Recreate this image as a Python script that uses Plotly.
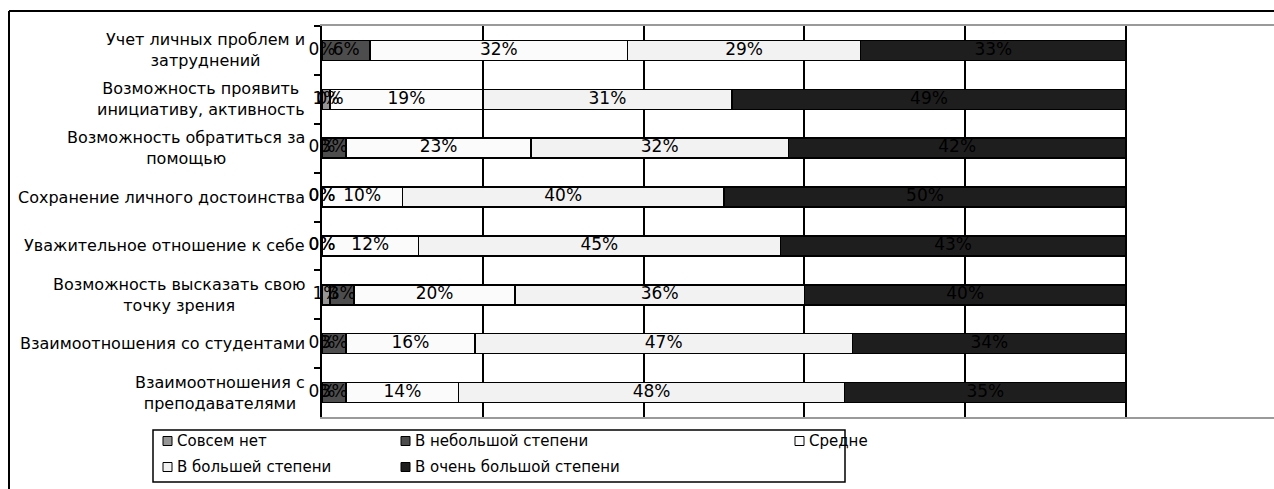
import plotly.graph_objects as go

# Survey items (top to bottom)
categories = [
    "Учет личных проблем и<br>затруднений",
    "Возможность проявить<br>инициативу, активность",
    "Возможность обратиться за<br>помощью",
    "Сохранение личного достоинства",
    "Уважительное отношение к себе",
    "Возможность высказать свою<br>точку зрения",
    "Взаимоотношения со студентами",
    "Взаимоотношения с<br>преподавателями",
]

# Share of answers, %
sovsem_net = [0, 1, 0, 0, 0, 1, 0, 0]
v_nebolshoy = [6, 0, 3, 0, 0, 3, 3, 3]
sredne = [32, 19, 23, 10, 12, 20, 16, 14]
v_bolshey = [29, 31, 32, 40, 45, 36, 47, 48]
v_ochen_bolshoy = [33, 49, 42, 50, 43, 40, 34, 35]

series_names = [
    "Совсем нет",
    "В небольшой степени",
    "Средне",
    "В большей степени",
    "В очень большой степени",
]
series_values = [sovsem_net, v_nebolshoy, sredne, v_bolshey, v_ochen_bolshoy]
series_colors = ["#969696", "#4d4d4d", "#fbfbfb", "#f2f2f2", "#1e1e1e"]

W, H = 1274, 489
ML, MR, MT, MB = 322, 0, 26, 72
PW, PH = W - ML - MR, H - MT - MB
X_MAX = 100 * PW / 804.0  # 100% sits at 804 px from the axis


def px(xpix):
    return (xpix - ML) / PW


def py(ypix):
    return (H - MB - ypix) / PH


LABEL_FONT = "DejaVu Sans"

fig = go.Figure()

for name, vals, col in zip(series_names, series_values, series_colors):
    fig.add_trace(go.Bar(
        y=categories, x=vals, name=name, orientation="h",
        marker=dict(color=col, line=dict(color="#000000", width=1.5)),
        showlegend=False, hoverinfo="skip",
    ))

# value labels centred in each segment
starts = [0] * len(categories)
for vals in series_values:
    centers = [s + v / 2 for s, v in zip(starts, vals)]
    fig.add_trace(go.Scatter(
        y=categories, x=centers, mode="text",
        text=[f"{v}%" for v in vals],
        textfont=dict(family=LABEL_FONT, size=17, color="#000000"),
        cliponaxis=False, showlegend=False, hoverinfo="skip",
    ))
    starts = [s + v for s, v in zip(starts, vals)]

# category labels, centred lines, right edge near the axis
for cat in categories:
    fig.add_annotation(
        xref="paper", yref="y", x=px(307), y=cat, text=cat,
        xanchor="right", yanchor="middle", align="center", showarrow=False,
        font=dict(family=LABEL_FONT, size=16, color="#000000"),
    )

shapes = []
# outer chart frame
shapes.append(dict(type="line", xref="paper", yref="paper",
                   x0=px(9), x1=px(9), y0=py(11), y1=py(H + 2),
                   line=dict(color="#000000", width=2)))
shapes.append(dict(type="line", xref="paper", yref="paper",
                   x0=px(9), x1=px(W + 2), y0=py(11), y1=py(11),
                   line=dict(color="#000000", width=2)))
# legend box
shapes.append(dict(type="rect", xref="paper", yref="paper",
                   x0=px(153), x1=px(845), y0=py(430), y1=py(482),
                   line=dict(color="#000000", width=1.5), fillcolor="#ffffff"))

legend_pos = [(163, 441), (401, 441), (795, 441), (163, 467), (401, 467)]
for (lx, ly), name, col in zip(legend_pos, series_names, series_colors):
    shapes.append(dict(type="rect", xref="paper", yref="paper",
                       x0=px(lx), x1=px(lx + 9), y0=py(ly - 4.5), y1=py(ly + 4.5),
                       line=dict(color="#000000", width=1), fillcolor=col))
    fig.add_annotation(
        xref="paper", yref="paper", x=px(lx + 12), y=py(ly), text=name,
        xanchor="left", yanchor="middle", showarrow=False,
        font=dict(family=LABEL_FONT, size=15, color="#000000"),
    )

fig.update_layout(
    width=W, height=H,
    margin=dict(l=ML, r=MR, t=MT, b=MB),
    barmode="stack", bargap=0.59,
    paper_bgcolor="#ffffff", plot_bgcolor="#ffffff",
    shapes=shapes,
    xaxis=dict(
        range=[0, X_MAX], tickvals=[0, 20, 40, 60, 80, 100],
        showticklabels=False, ticks="",
        showgrid=True, gridcolor="#000000", gridwidth=1.5,
        zeroline=False,
        showline=True, linecolor="#9a9a9a", linewidth=2, mirror=True,
    ),
    yaxis=dict(
        autorange="reversed", showticklabels=False,
        ticks="outside", tickson="boundaries", ticklen=6,
        tickcolor="#000000", tickwidth=1.5,
        showgrid=False, zeroline=False,
        showline=True, linecolor="#000000", linewidth=2,
    ),
)

fig.write_html("out.html")
